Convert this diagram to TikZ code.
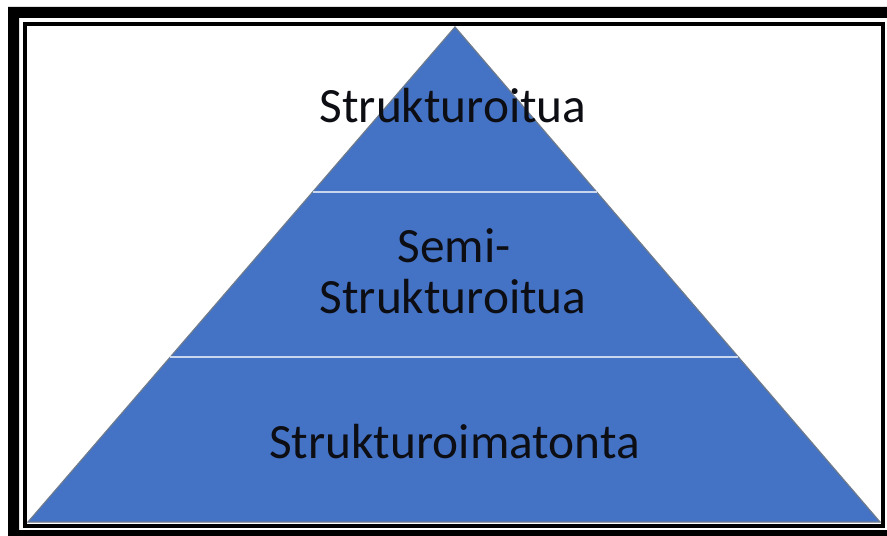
\documentclass[tikz,border=0pt]{standalone}
\usepackage{fontspec}
\setmainfont{Carlito}
\usetikzlibrary{calc}
\definecolor{pyrblue}{HTML}{4472C4}
\definecolor{sepline}{HTML}{C9D7EE}
\definecolor{edgegray}{HTML}{6E7B8C}
\definecolor{txt}{HTML}{0D0D14}
\begin{document}
\begin{tikzpicture}[x=0.75pt,y=-0.75pt,
  label/.style={font=\fontsize{37}{40}\selectfont,text=txt,inner sep=0pt,anchor=base},
  sepstyle/.style={draw=sepline,line width=1.6pt}]
\useasboundingbox (0,0) rectangle (887,535);
\clip (0,0) rectangle (887,535);
\fill[white] (0,0) rectangle (887,535);
% outer black frame (clipped on right and bottom)
\fill[black,even odd rule] (8,7) rectangle (920,560) (19,18) rectangle (898,530);
% inner frame
\draw[black,line width=3pt] (25,24) rectangle (883,525.5);
% pyramid
\coordinate (bl) at (28,522);
\coordinate (ap) at (455,27);
\coordinate (br) at (880,522);
\fill[gray!70,shift={(1,2.5)}] (bl) -- (ap) -- (br) -- cycle;
\fill[pyrblue,draw=edgegray,line width=0.9pt,line join=miter] (bl) -- (ap) -- (br) -- cycle;
% separators
\coordinate (s1l) at ($(ap)!0.3333!(bl)$);
\coordinate (s1r) at ($(ap)!0.3333!(br)$);
\coordinate (s2l) at ($(ap)!0.6667!(bl)$);
\coordinate (s2r) at ($(ap)!0.6667!(br)$);
\draw[sepstyle] (s1l) -- (s1r);
\draw[sepstyle] (s2l) -- (s2r);
% labels
\node[label] (top) at (453,122) {Strukturoitua};
\node[label] (semi) at (454,262) {Semi-};
\node[label] (mid) at (453,313) {Strukturoitua};
\node[label] (bot) at (454.5,458) {Strukturoimatonta};
\end{tikzpicture}
\end{document}
